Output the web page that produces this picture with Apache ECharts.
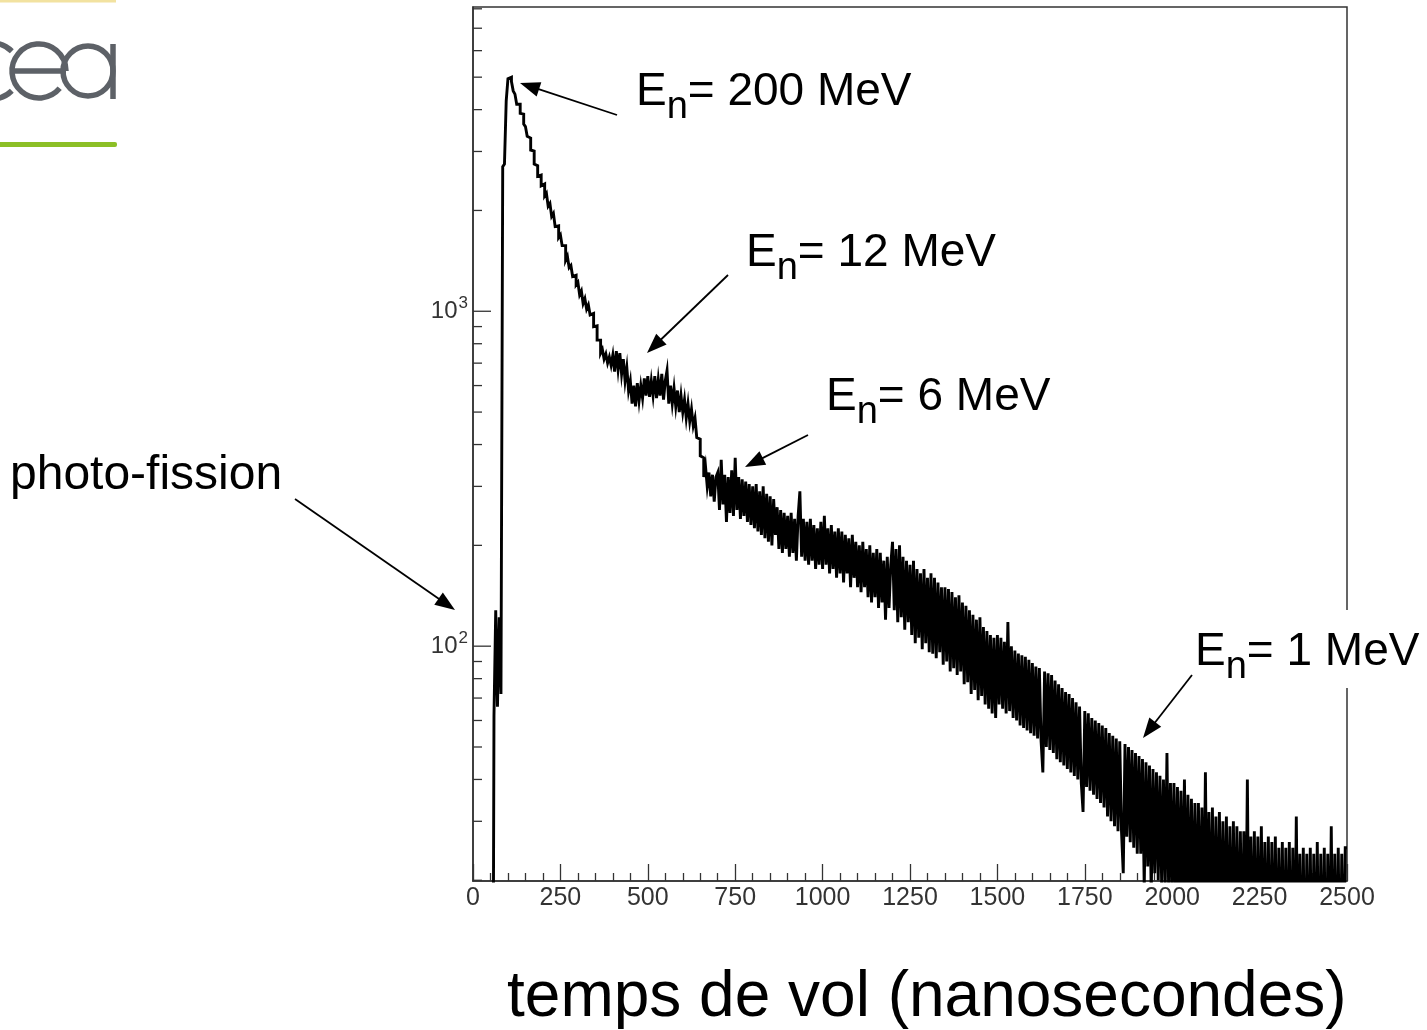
<!DOCTYPE html>
<html><head><meta charset="utf-8">
<script src="https://cdn.jsdelivr.net/npm/echarts@6/dist/echarts.min.js"></script>
<style>html,body{margin:0;padding:0;background:#fff;} #chart{width:1427px;height:1030px;}</style>
</head><body><div id="chart"></div>
<script>
// ---- histogram data: counts per 5 ns bin (bin left edge = start + i*binWidth) ----
const binWidth = 5;
const seg1Start = 55;
const counts1 = [1,62,128,66,122,72,2700,2750,4250,4950,
 5000,4850,4550,4450,4150,4150,3900,3880,3620,3560,
 3330,3290,3030,3010,2750,2720,2530,2550,2370,2400,
 2210,2250,2060,2100,1920,1960,1790,1800,1660,1690,
 1570,1570,1420,1460,1350,1370,1270,1280,1200,1220,
 1120,1150,1055,1090,1015,1045,975,985,900,905,
 820,820,750,770,720,745,700,730,690];
const seg2Start = 400;
const counts2 = [740,660,760,670,750,650,720,620,680,580,
 620,530,600,520,610,540,600,550,630,560,
 640,555,620,560,640,550,625,560,650,545,
 620,665,530,600,530,590,520,580,500,560,
 500,545,480,530,470,510,455,480,420,415,
 370,365,320,345,300,330,280,325,270,320];
const seg3Start = 700;
const counts3 = [330,255,360,265,325,235,320,250,335,245,
 365,255,320,240,315,245,310,235,305,230,
 300,225,305,220,290,215,300,210,285,205,
 280,200,275,215,260,195,255,190,250,195,
 245,185,250,190,240,180,245,290,185,240,
 180,235,175,240,180,230,170,225,175,235,
 170,245,175,225,165,230,170,220,160,225,
 165,220,155,215,165,210,150,215,160,205,
 150,200,145,205,150,195,140,200,135,190,
 140,195,130,190,135,180,120,185,130,175];
const seg4Start = 1200;
const counts4 = [205,128,195,118,200,122,185,112,180,118,
 175,108,180,102,170,106,165,98,170,102,
 160,96,165,95,160,92,155,96,150,88,
 150,90,148,84,145,86,140,82,142,84,
 135,77,132,78,128,72,124,74,120,69,
 122,71,114,67,111,65,108,63,106,61,
 108,67,106,65,103,63,118,64,100,61,
 97,60,95,58,94,57,93,56,91,55,
 89,54,87,53,86,52,42,84,50,83,
 49,82,48,79,46,77,45,75,44,73,
 43,72,42,70,41,68,40,66,39,32,
 64,38,63,37,61,36,60,35,59,34];
const seg5Start = 1800;
const counts5 = [58,33,57,31,55,30,54,29,53,28,
 52,28,21,51,27,50,26,49,25,48,
 24,47,24,46,19,45,22,44,18,43,
 21,42,20,41,19,40,19,48,18,39,
 18,39,17,38,17,37,16,40,16,36,
 15,35,15,34,14,34,14,33,13,42,
 13,32,13,33,12,31,12,32,12,30,
 12,31,11,29,11,30,11,29,11,28,
 11,28,11,40,10,27,11,28,10,27,
 10,29,10,26,10,27,9,26,10,27,
 9,25,10,26,9,25,9,26,9,25,
 9,31,9,24,9,25,8,24,9,25,
 8,24,9,26,8,24,9,25,8,24,
 9,29,8,24,9,25,8,24,9,25];

// ---- axes ----
const xMin = 0, xMax = 2500, xInterval = 250;
const yMin = 19.9, yMax = 8100;
const yTickValues = [20,30,40,50,60,70,80,90,100,200,300,400,500,600,700,800,900,1000,2000,3000,4000,5000,6000,7000,8000];

// ---- annotation texts ----
const annotations = [
  {rest: '= 200 MeV'},
  {rest: '= 12 MeV'},
  {rest: '= 6 MeV'},
  {rest: '= 1 MeV'}
];
const sideLabel = 'photo-fission';
const xTitle = 'temps de vol (nanosecondes)';

// build histogram points
const segments = [[seg1Start, counts1],[seg2Start, counts2],[seg3Start, counts3],[seg4Start, counts4],[seg5Start, counts5]];
const histData = [];
segments.forEach(function(s){ s[1].forEach(function(v,i){ histData.push([s[0] + i*binWidth, v]); }); });
histData.push([xMax, counts5[counts5.length-1]]);

const FONT = "'Liberation Sans', Arial, Helvetica, sans-serif";
function isPow10(v){ const e = Math.log10(v); return Math.abs(e - Math.round(e)) < 1e-6; }

// ---- layout of annotations (pixels) ----
const annPos = [[636,108],[746,269],[826,413],[1195,668]];
const arrows = [[617,115,520,83],[728,275,647,353],[808,435,745,467],[295,499,455,610],[1192,675,1143,738]];

const graphics = [];
function txt(x, baseline, s, fs){
  graphics.push({type:'text', x:x, y: baseline - 0.3465*fs, z:100,
    style:{text:s, fill:'#000', fontSize:fs, fontFamily:FONT, textAlign:'left', textVerticalAlign:'middle', align:'left', verticalAlign:'middle'}});
}
// white box behind "1 MeV" label
graphics.push({type:'rect', z:99, shape:{x:1176,y:610,width:260,height:78}, style:{fill:'#fff'}});
annotations.forEach(function(a, k){
  const x = annPos[k][0], b = annPos[k][1];
  txt(x, b, 'E', 46);
  txt(x + 30.7, b + 13, 'n', 38);
  txt(x + 30.7 + 21.1, b, a.rest, 46);
});
txt(10, 492, sideLabel, 48);
txt(507, 1021, xTitle, 64);
arrows.forEach(function(a){
  const x1=a[0], y1=a[1], x2=a[2], y2=a[3];
  const dx=x2-x1, dy=y2-y1, L=Math.hypot(dx,dy), ux=dx/L, uy=dy/L;
  const hl=20, hw=7.5, bx=x2-ux*hl, by=y2-uy*hl;
  graphics.push({type:'line', z:100, shape:{x1:x1,y1:y1,x2:bx+ux*2,y2:by+uy*2}, style:{stroke:'#000', lineWidth:1.8}});
  graphics.push({type:'polygon', z:100, shape:{points:[[x2,y2],[bx-uy*hw, by+ux*hw],[bx+uy*hw, by-ux*hw]]}, style:{fill:'#000'}});
});
// CEA logo
const logoGray = '#5d6167';
graphics.push({type:'rect', z:100, shape:{x:0,y:0,width:116,height:2.5}, style:{fill:'#f2e2a0'}});
graphics.push({type:'rect', z:100, shape:{x:0,y:142,width:117,height:5, r:[0,2,2,0]}, style:{fill:'#8cbf26'}});
graphics.push({type:'arc', z:100, shape:{cx:-8,cy:71,r:28,startAngle:Math.PI/4,endAngle:Math.PI*7/4,clockwise:true}, style:{stroke:logoGray, lineWidth:5.5, fill:null}});
graphics.push({type:'arc', z:100, shape:{cx:39,cy:71,r:27,startAngle:Math.PI*40/180,endAngle:Math.PI*2,clockwise:true}, style:{stroke:logoGray, lineWidth:5.5, fill:null}});
graphics.push({type:'line', z:100, shape:{x1:12,y1:71,x2:66,y2:71}, style:{stroke:logoGray, lineWidth:5.5}});
graphics.push({type:'circle', z:100, shape:{cx:88,cy:71,r:25}, style:{stroke:logoGray, lineWidth:5.5, fill:null}});
graphics.push({type:'line', z:100, shape:{x1:113,y1:44,x2:113,y2:99}, style:{stroke:logoGray, lineWidth:5.5}});

const chart = echarts.init(document.getElementById('chart'), null, {renderer:'canvas'});
chart.setOption({
  animation:false,
  backgroundColor:'#fff',
  grid:{left:473,right:80,top:7,bottom:149,show:true,borderColor:'#333',borderWidth:1.5,backgroundColor:'transparent'},
  xAxis:{type:'value',min:xMin,max:xMax,interval:xInterval,
    axisLine:{lineStyle:{color:'#333',width:1.5}},
    axisTick:{inside:true,length:17,lineStyle:{color:'#333',width:1.3}},
    minorTick:{show:true,splitNumber:5,length:8,lineStyle:{color:'#333',width:1.3}},
    splitLine:{show:false}, minorSplitLine:{show:false},
    axisLabel:{fontSize:25,color:'#333',fontFamily:FONT,margin:5,formatter:function(v){return String(v);}}},
  yAxis:{type:'log',logBase:10,min:yMin,max:yMax,
    axisLine:{show:true,lineStyle:{color:'#333',width:1.5}},
    axisTick:{show:false}, splitLine:{show:false},
    axisLabel:{showMinLabel:false,showMaxLabel:false,margin:5,color:'#333',
      formatter:function(v){ if(!isPow10(v)) return ''; const e=Math.round(Math.log10(v)); return '{a|10}{b|'+e+'}'; },
      rich:{a:{fontSize:24,fontFamily:FONT,color:'#333'}, b:{fontSize:17,fontFamily:FONT,color:'#333',padding:[0,0,16,1]}}}},
  series:[
    {type:'line', data:histData, step:'end', symbol:'none', showSymbol:false, clip:true,
     lineStyle:{color:'#000', width:2.9, join:'miter'}, z:3, silent:true},
    {type:'custom', data:yTickValues.map(function(v){return [0,v];}), silent:true, z:4,
     renderItem:function(params, api){
       const v = api.value(1); const p = api.coord([0, v]);
       const len = isPow10(v) ? 18 : 9;
       return {type:'line', shape:{x1:p[0], y1:p[1], x2:p[0]+len, y2:p[1]}, style:{stroke:'#333', lineWidth:1.3}};
     }}
  ],
  graphic:graphics
});
</script></body></html>
